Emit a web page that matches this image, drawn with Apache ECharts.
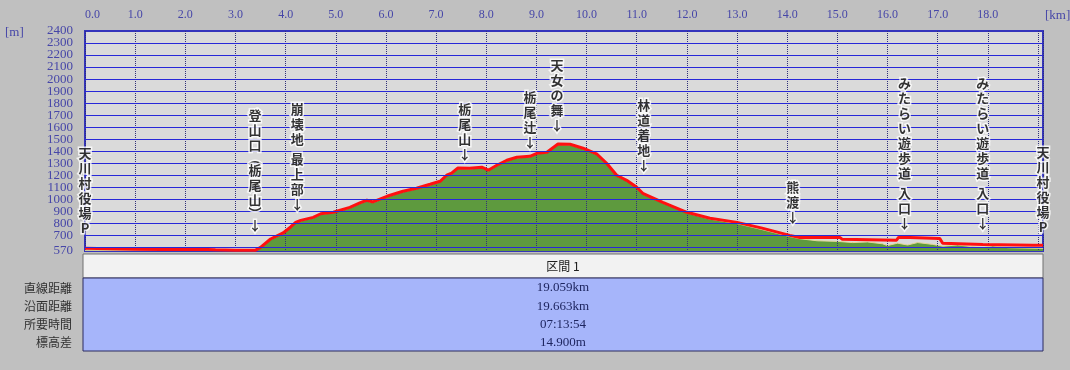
<!DOCTYPE html>
<html><head><meta charset="utf-8">
<script src="https://cdn.jsdelivr.net/npm/echarts@6/dist/echarts.min.js"></script>
<style>html,body{margin:0;padding:0;background:#c0c0c0}#c{width:1070px;height:370px}</style>
</head><body><div id="c"></div>
<script>
// ---- data ----
const trackKm   = [0.00,0.5,1.0,1.5,2.0,2.3,2.6,3.0,3.4,3.5,3.7,3.95,4.1,4.2,4.3,4.55,4.7,4.95,5.28,5.48,5.62,5.74,6.02,6.34,6.61,6.88,7.08,7.21,7.31,7.43,7.67,7.91,8.04,8.21,8.41,8.61,8.87,9.01,9.21,9.43,9.67,9.93,10.21,10.4,10.6,10.8,11.0,11.12,11.52,12.0,12.46,13.0,13.5,14.05,14.25,15.05,15.1,16.18,16.22,16.45,17.04,17.1,17.9,18.9,19.1];
const trackElev = [592,588,585,583,582,585,580,577,577,600,670,720,770,808,825,850,880,892,933,970,992,978,1025,1067,1092,1125,1150,1200,1217,1260,1258,1267,1242,1283,1325,1350,1358,1383,1392,1460,1458,1425,1375,1300,1200,1158,1100,1050,975,892,842,808,760,700,683,683,667,660,683,683,675,635,625,617,617];
const terrainKm   = [0,3.4,3.5,3.7,3.95,4.1,4.2,4.3,4.55,4.7,4.95,5.28,5.48,5.62,5.74,6.02,6.34,6.61,6.88,7.08,7.21,7.31,7.43,7.67,7.91,8.04,8.21,8.41,8.61,8.87,9.01,9.21,9.43,9.67,9.93,10.21,10.4,10.6,10.8,11.0,11.12,11.52,12.0,12.46,13.0,13.5,14.05,14.25,14.6,15.0,15.3,15.6,15.9,16.0,16.2,16.4,16.6,16.9,17.1,17.4,17.7,17.9,18.1,18.4,18.7,19.1];
const terrainElev = [575,575,595,665,715,765,800,820,845,875,888,928,965,985,972,1020,1062,1087,1120,1145,1195,1212,1255,1253,1262,1237,1278,1320,1345,1353,1378,1387,1455,1453,1420,1370,1295,1195,1153,1095,1045,970,887,835,798,748,690,672,655,650,640,645,630,615,635,620,640,625,610,620,605,600,612,598,595,592];
const yLabelValues = [570,700,800,900,1000,1100,1200,1300,1400,1500,1600,1700,1800,1900,2000,2100,2200,2300,2400];
const yGridValues  = [600,700,800,900,1000,1100,1200,1300,1400,1500,1600,1700,1800,1900,2000,2100,2200,2300];
const poiNames = ['天川村役場P','登山口︵栃尾山︶↓','崩壊地 最上部↓','栃尾山↓','栃尾辻↓','天女の舞↓','林道着地↓','熊渡↓','みたらい遊歩道 入口↓','みたらい遊歩道 入口↓','天川村役場P'];
const poiKm    = [0, 3.39, 4.23, 7.57, 8.87, 9.41, 11.14, 14.11, 16.34, 17.9, 19.1];
const poiElev  = [692, 717, 892, 1308, 1408, 1550, 1217, 783, 733, 733, 700];
const tableHeader = '区間 1';
const tableLabels = ['直線距離','沿面距離','所要時間','標高差'];
const tableValues = ['19.059km','19.663km','07:13:54','14.900m'];

// ---- chart ----
const chart = echarts.init(document.getElementById('c'));
const serif = 'Liberation Serif';
const cjk = '"Noto Sans CJK JP"';
const axisBlue = '#4646a8';

function vert(name){
  return name.split('').map(c => c === ' ' ? '{sp| }' : (c === '︵' || c === '︶') ? '{p|' + c + '}' : c).join('\n');
}

const tableGraphics = [
  {type:'rect', shape:{x:83,y:254,width:960,height:24}, style:{fill:'#f2f2f2', stroke:'#707070', lineWidth:1}},
  {type:'rect', shape:{x:83,y:278,width:960,height:73}, style:{fill:'#a6b5fa', stroke:'#2a2a60', lineWidth:1}},
  {type:'text', x:563, y:266, style:{text:tableHeader, font:'12px ' + cjk, fill:'#202020', align:'center', verticalAlign:'middle'}}
];
tableLabels.forEach((t,i) => {
  tableGraphics.push({type:'text', x:72, y:288 + i*18.3, style:{text:t, font:'12px ' + cjk, fill:'#303030', align:'right', verticalAlign:'middle'}});
  tableGraphics.push({type:'text', x:563, y:288 + i*18.3, style:{text:tableValues[i], font:'13px ' + serif, fill:'#1e2660', align:'center', verticalAlign:'middle'}});
});
tableGraphics.push({type:'text', x:5, y:33, style:{text:'[m]', font:'13px ' + serif, fill:axisBlue, align:'left', verticalAlign:'middle'}});
tableGraphics.push({type:'text', x:1045, y:16, style:{text:'[km]', font:'13px ' + serif, fill:axisBlue, align:'left', verticalAlign:'middle'}});

chart.setOption({
  animation:false,
  backgroundColor:'#c0c0c0',
  grid:{left:85, right:27, top:31, bottom:119, show:true, backgroundColor:'#dadada', borderColor:'#3434bc', borderWidth:2, z:-2},
  xAxis:{
    type:'value', position:'top', min:0, max:19.1, interval:1,
    axisLine:{show:false}, axisTick:{show:false},
    axisLabel:{color:axisBlue, fontFamily:serif, fontSize:12, margin:10, alignMinLabel:'left',
      formatter: v => v > 18.5 ? '' : v.toFixed(1)},
    splitLine:{show:true, lineStyle:{color:'#30307a', type:'dotted', width:1}}
  },
  yAxis:{
    type:'value', min:570, max:2400,
    axisLine:{show:false}, axisTick:{show:false}, axisLabel:{show:false}, splitLine:{show:false}
  },
  graphic: tableGraphics,
  series:[
    {type:'line', name:'terrain', z:-1, symbol:'none', data: terrainKm.map((k,i)=>[k, terrainElev[i]]),
      lineStyle:{color:'#e2d596', width:1}, areaStyle:{color:'#5e9a3e', opacity:1, origin:'start'}},
    {type:'line', name:'ygrid', z:1, data:[], silent:true,
      markLine:{silent:true, symbol:['none','none'], label:{show:false},
        lineStyle:{color:'#2828d8', width:1, type:'solid', opacity:1},
        data: yGridValues.map(v => ({yAxis:v}))}},
    {type:'line', name:'ylabels', z:1, data:[], silent:true,
      markLine:{silent:true, symbol:['none','none'],
        lineStyle:{color:'rgba(0,0,0,0)', width:1, type:'solid'},
        label:{show:true, position:'start', distance:12, color:axisBlue, fontFamily:serif, fontSize:13,
          formatter: p => String(p.value)},
        data: yLabelValues.map(v => ({yAxis:v}))}},
    {type:'line', name:'track', z:3, symbol:'none', data: trackKm.map((k,i)=>[k, trackElev[i]]),
      lineStyle:{color:'#ff1010', width:3}},
    {type:'scatter', name:'poi', z:5, symbolSize:1, itemStyle:{color:'rgba(0,0,0,0)'}, clip:false,
      data: poiKm.map((k,i)=>[k, poiElev[i]]),
      label:{show:true, position:'top', distance:0, fontFamily:cjk, fontSize:13, fontWeight:'bold', lineHeight:15, color:'#000',
        textBorderColor:'#fff', textBorderWidth:3,
        formatter: p => vert(poiNames[p.dataIndex]),
        rich:{sp:{lineHeight:5, fontSize:5}, p:{lineHeight:10, fontSize:13, fontWeight:'bold', color:'#000', textBorderColor:'#fff', textBorderWidth:3, fontFamily:cjk}}}}
  ]
});
</script></body></html>
